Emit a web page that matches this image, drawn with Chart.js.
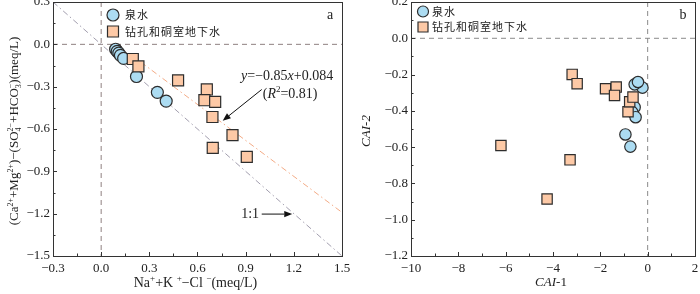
<!DOCTYPE html>
<html>
<head>
<meta charset="utf-8">
<script src="https://cdn.jsdelivr.net/npm/chart.js@4.4.1/dist/chart.umd.min.js"></script>
<style>
    html, body { margin: 0; padding: 0; background: #fff; }
    #wrap { position: relative; width: 700px; height: 294px; }
    canvas { position: absolute; top: 0; }
</style>
</head>
<body>
<div id="wrap">
    <canvas id="chartA" width="350" height="294" style="left:0"></canvas>
    <canvas id="chartB" width="350" height="294" style="left:350px"></canvas>
</div>
<script>
// ---- panel a: (Ca+Mg)-(SO4+HCO3) vs Na+K-Cl ----
const springNaKCl = [0.09, 0.10, 0.11, 0.12, 0.14, 0.22, 0.35, 0.405];
const springCaMg  = [-0.035, -0.05, -0.062, -0.078, -0.10, -0.228, -0.34, -0.402];
const boreNaKCl   = [0.197, 0.232, 0.479, 0.658, 0.643, 0.71, 0.693, 0.818, 0.695, 0.907];
const boreCaMg    = [-0.104, -0.156, -0.255, -0.32, -0.396, -0.408, -0.515, -0.644, -0.734, -0.798];
const oneToOneX = [-0.3, 1.5];
const oneToOneY = [0.3, -1.5];
const fitX = [0.18, 1.5];
const fitY = [-0.069, -1.191];
const xTicksA = [-0.3, 0, 0.3, 0.6, 0.9, 1.2, 1.5];
const yTicksA = [0.3, 0, -0.3, -0.6, -0.9, -1.2, -1.5];
const xMinorA = [-0.15, 0.15, 0.45, 0.75, 1.05, 1.35];
const yMinorA = [0.15, -0.15, -0.45, -0.75, -1.05, -1.35];

// ---- panel b: CAI-1 vs CAI-2 ----
const springCAI1 = [-0.22, -0.55, -0.41, -0.55, -0.65, -0.51, -0.94, -0.73];
const springCAI2 = [-0.272, -0.254, -0.241, -0.38, -0.407, -0.435, -0.53, -0.597];
const boreCAI1 = [-3.19, -2.98, -1.78, -1.33, -1.40, -0.83, -0.76, -0.62, -6.2, -3.28, -4.25];
const boreCAI2 = [-0.199, -0.25, -0.278, -0.269, -0.315, -0.405, -0.35, -0.324, -0.591, -0.67, -0.886];
const xTicksB = [-10, -8, -6, -4, -2, 0, 2];
const yTicksB = [0.2, 0, -0.2, -0.4, -0.6, -0.8, -1.0, -1.2];
const xMinorB = [-9, -7, -5, -3, -1, 1];
const yMinorB = [0.1, -0.1, -0.3, -0.5, -0.7, -0.9, -1.1];

const legendLabels = ['泉水', '钻孔和硐室地下水'];

const SERIF = '"Liberation Serif", "Times New Roman", serif';
const CJK = '"Noto Sans CJK SC", sans-serif';
const BLUE = '#acdcf2';
const PEACH = '#fdc9a6';
const EDGE = '#2d2d2d';

function pts(xs, ys) {
    return xs.map((x, i) => ({ x: x, y: ys[i] }));
}

function fmt(v, d) {
    if (Math.abs(v) < 1e-9) v = 0;
    const s = v.toFixed(d);
    return v < 0 ? '\u2212' + s.slice(1) : s;
}

// text with italic / super / subscript runs
function drawRuns(ctx, runs, cx, cy, size, rot) {
    const small = Math.round(size * 0.62);
    let w = 0;
    const parts = runs.map(r => {
        const t = r[0], k = r[1] || 'n';
        let font;
        let width;
        if (k === 'sup' || k === 'sub' || k === 'ss') {
            font = small + 'px ' + SERIF;
            ctx.font = font;
            width = Math.max.apply(null, t.split('|').map(s => ctx.measureText(s).width));
        } else {
            font = (k === 'i' ? 'italic ' : '') + size + 'px ' + SERIF;
            ctx.font = font;
            width = ctx.measureText(t).width;
        }
        w += width;
        return { t, k, font, width };
    });
    ctx.save();
    ctx.translate(cx, cy);
    if (rot) ctx.rotate(rot);
    ctx.textBaseline = 'middle';
    ctx.textAlign = 'left';
    ctx.fillStyle = '#222';
    let x = -w / 2;
    parts.forEach(p => {
        ctx.font = p.font;
        if (p.k === 'sup') ctx.fillText(p.t, x, -size * 0.33);
        else if (p.k === 'sub') ctx.fillText(p.t, x, size * 0.3);
        else if (p.k === 'ss') {
            const ab = p.t.split('|');
            ctx.fillText(ab[0], x, size * 0.3);
            ctx.fillText(ab[1], x, -size * 0.33);
        } else ctx.fillText(p.t, x, 0);
        x += p.width;
    });
    ctx.restore();
}

function arrow(ctx, x1, y1, x2, y2) {
    const ang = Math.atan2(y2 - y1, x2 - x1);
    const hl = 8, hw = 3.2;
    const bx = x2 - hl * Math.cos(ang), by = y2 - hl * Math.sin(ang);
    ctx.save();
    ctx.strokeStyle = '#111';
    ctx.fillStyle = '#111';
    ctx.lineWidth = 1;
    ctx.beginPath();
    ctx.moveTo(x1, y1);
    ctx.lineTo(bx, by);
    ctx.stroke();
    ctx.beginPath();
    ctx.moveTo(x2, y2);
    ctx.lineTo(bx + hw * Math.sin(ang), by - hw * Math.cos(ang));
    ctx.lineTo(bx - hw * Math.sin(ang), by + hw * Math.cos(ang));
    ctx.closePath();
    ctx.fill();
    ctx.restore();
}

function legendMark(ctx, kind, x, y, s) {
    ctx.save();
    ctx.lineWidth = 1.2;
    ctx.strokeStyle = EDGE;
    ctx.beginPath();
    if (kind === 'circle') {
        ctx.fillStyle = BLUE;
        ctx.arc(x, y, s / 2, 0, Math.PI * 2);
    } else {
        ctx.fillStyle = PEACH;
        ctx.rect(x - s / 2, y - s / 2, s, s);
    }
    ctx.fill();
    ctx.stroke();
    ctx.restore();
}

// frame, inner ticks, titles, legend and notes
const decor = {
    id: 'decor',
    afterDraw(chart, args, o) {
        const ctx = chart.ctx;
        const sx = chart.scales.x, sy = chart.scales.y;
        const L = Math.round(sx.getPixelForValue(sx.min)), R = Math.round(sx.getPixelForValue(sx.max));
        const T = Math.round(sy.getPixelForValue(sy.max)), B = Math.round(sy.getPixelForValue(sy.min));
        ctx.save();
        ctx.strokeStyle = '#333';
        ctx.lineWidth = 1;
        ctx.strokeRect(L + 0.5, T + 0.5, R - L, B - T);
        ctx.beginPath();
        o.xMajor.forEach(v => { const p = Math.round(sx.getPixelForValue(v)) + 0.5; ctx.moveTo(p, B); ctx.lineTo(p, B - 4); });
        o.xMinor.forEach(v => { const p = Math.round(sx.getPixelForValue(v)) + 0.5; ctx.moveTo(p, B); ctx.lineTo(p, B - 2.5); });
        o.yMajor.forEach(v => { const p = Math.round(sy.getPixelForValue(v)) + 0.5; ctx.moveTo(L, p); ctx.lineTo(L + 4, p); });
        o.yMinor.forEach(v => { const p = Math.round(sy.getPixelForValue(v)) + 0.5; ctx.moveTo(L, p); ctx.lineTo(L + 2.5, p); });
        ctx.stroke();
        ctx.restore();

        drawRuns(ctx, o.xTitle, (L + R) / 2 - 2, 283, o.xTitleSize, 0);
        drawRuns(ctx, o.yTitle, o.yTitleX, (T + B) / 2 + 2, 13, -Math.PI / 2);

        // panel letter
        ctx.save();
        ctx.font = '14px ' + SERIF;
        ctx.fillStyle = '#222';
        ctx.textAlign = 'center';
        ctx.textBaseline = 'middle';
        ctx.fillText(o.letter, R - 12, 15);
        ctx.restore();

        // legend
        const lg = o.legend;
        legendMark(ctx, 'circle', lg.x, lg.y, lg.c);
        legendMark(ctx, 'rect', lg.x, lg.y + lg.gap, lg.s);
        ctx.save();
        ctx.font = '11px ' + CJK;
        ctx.letterSpacing = '1px';
        ctx.fillStyle = '#222';
        ctx.textBaseline = 'middle';
        ctx.fillText(legendLabels[0], lg.x + lg.tx, lg.y);
        ctx.fillText(legendLabels[1], lg.x + lg.tx, lg.y + lg.gap);
        ctx.restore();

        if (o.notes) o.notes(chart, ctx, sx, sy);
    }
};
Chart.register(decor);

const NO_PAD = { left: 0, top: 0, right: 0, bottom: 0 };

function fixAxis(w, h) {
    return function (s) {
        if (w !== null) s.width = w;
        if (h !== null) s.height = h;
        s.paddingTop = 0; s.paddingBottom = 0; s.paddingLeft = 0; s.paddingRight = 0;
        s.getPadding = () => NO_PAD;
    };
}

function setTicks(arr) {
    return function (s) { s.ticks = arr.map(v => ({ value: v })); };
}

function axes(xMin, xMax, yMin, yMax, xT, yT, xd, yd, yw) {
    return {
        x: {
            type: 'linear', min: xMin, max: xMax,
            grid: { display: false, drawTicks: false }, border: { display: false },
            afterBuildTicks: setTicks(xT),
            afterFit: fixAxis(null, 38),
            ticks: { autoSkip: false, maxRotation: 0, padding: 5, color: '#222',
                font: { family: SERIF, size: 13 }, callback: v => fmt(v, xd) }
        },
        y: {
            type: 'linear', min: yMin, max: yMax,
            grid: { display: false, drawTicks: false }, border: { display: false },
            afterBuildTicks: setTicks(yT),
            afterFit: fixAxis(yw, null),
            ticks: { autoSkip: false, padding: 3, color: '#222',
                font: { family: SERIF, size: 13 }, callback: v => fmt(v, yd) }
        }
    };
}

function marks(label, data, style, r) {
    return {
        label: label, data: data, order: 1,
        pointStyle: style, pointRadius: r, pointHoverRadius: r,
        backgroundColor: style === 'circle' ? BLUE : PEACH,
        borderColor: EDGE, borderWidth: 1.2
    };
}

function line(data, color, dash) {
    return {
        data: data, showLine: true, pointRadius: 0, order: 5,
        borderColor: color, borderWidth: 1, borderDash: dash, fill: false
    };
}

// panel a
new Chart(document.getElementById('chartA').getContext('2d'), {
    type: 'scatter',
    data: {
        datasets: [
            marks(legendLabels[1], pts(boreNaKCl, boreCaMg), 'rect', 7.8),
            marks(legendLabels[0], pts(springNaKCl, springCaMg), 'circle', 6),
            line(pts(oneToOneX, oneToOneY), '#a29eae', [6, 3, 1.5, 3]),
            line(pts(fitX, fitY), '#f3ab86', [6, 3, 1.5, 3]),
            line(pts([-0.3, 1.5], [0, 0]), '#8f8080', [5, 4]),
            line(pts([0, 0], [0.3, -1.5]), '#8f8080', [5, 4])
        ]
    },
    options: {
        responsive: false,
        animation: false,
        layout: { autoPadding: false, padding: { left: 0, right: 8, top: 2, bottom: 0 } },
        scales: axes(-0.3, 1.5, -1.5, 0.3, xTicksA, yTicksA, 1, 1, 53),
        plugins: {
            legend: { display: false },
            tooltip: { enabled: false },
            decor: {
                xMajor: xTicksA, xMinor: xMinorA, yMajor: yTicksA, yMinor: yMinorA,
                xTitle: [['Na'], ['+', 'sup'], ['+K '], ['+', 'sup'], ['\u2212Cl '], ['\u2212', 'sup'], ['(meq/L)']],
                xTitleSize: 14,
                yTitle: [['(Ca'], ['2+', 'sup'], ['+Mg'], ['2+', 'sup'], [')\u2212(SO'], ['4|2\u2212', 'ss'],
                         ['+HCO'], ['3|\u2212', 'ss'], [')(meq/L)']],
                yTitleX: 15,
                letter: 'a',
                legend: { x: 113, y: 15, gap: 16.5, c: 12, s: 11, tx: 12 },
                notes: function (chart, ctx, sx, sy) {
                    drawRuns(ctx, [['y', 'i'], ['=\u22120.85'], ['x', 'i'], ['+0.084']],
                        sx.getPixelForValue(1.158), sy.getPixelForValue(-0.23), 14, 0);
                    drawRuns(ctx, [['('], ['R', 'i'], ['2', 'sup'], ['=0.81)']],
                        sx.getPixelForValue(1.177), sy.getPixelForValue(-0.354), 14, 0);
                    arrow(ctx, sx.getPixelForValue(1.0), sy.getPixelForValue(-0.32),
                        sx.getPixelForValue(0.757), sy.getPixelForValue(-0.541));
                    drawRuns(ctx, [['1:1']], sx.getPixelForValue(0.928), sy.getPixelForValue(-1.203), 14, 0);
                    arrow(ctx, sx.getPixelForValue(1.0), sy.getPixelForValue(-1.203),
                        sx.getPixelForValue(1.19), sy.getPixelForValue(-1.203));
                }
            }
        }
    }
});

// panel b
new Chart(document.getElementById('chartB').getContext('2d'), {
    type: 'scatter',
    data: {
        datasets: [
            marks(legendLabels[1], pts(boreCAI1, boreCAI2), 'rect', 7.3),
            marks(legendLabels[0], pts(springCAI1, springCAI2), 'circle', 5.7),
            line(pts([-10, 2], [0, 0]), '#8a8a8a', [5, 4]),
            line(pts([0, 0], [0.2, -1.2]), '#8a8a8a', [5, 4])
        ]
    },
    options: {
        responsive: false,
        animation: false,
        layout: { autoPadding: false, padding: { left: 0, right: 5, top: 2, bottom: 0 } },
        scales: axes(-10, 2, -1.2, 0.2, xTicksB, yTicksB, 0, 1, 61),
        plugins: {
            legend: { display: false },
            tooltip: { enabled: false },
            decor: {
                xMajor: xTicksB, xMinor: xMinorB, yMajor: yTicksB, yMinor: yMinorB,
                xTitle: [['CAI', 'i'], ['-1']],
                xTitleSize: 13,
                yTitle: [['CAI', 'i'], ['-2', 'i']],
                yTitleX: 17,
                letter: 'b',
                legend: { x: 73, y: 11.5, gap: 15.5, c: 11, s: 10, tx: 9 }
            }
        }
    }
});
</script>
</body>
</html>
